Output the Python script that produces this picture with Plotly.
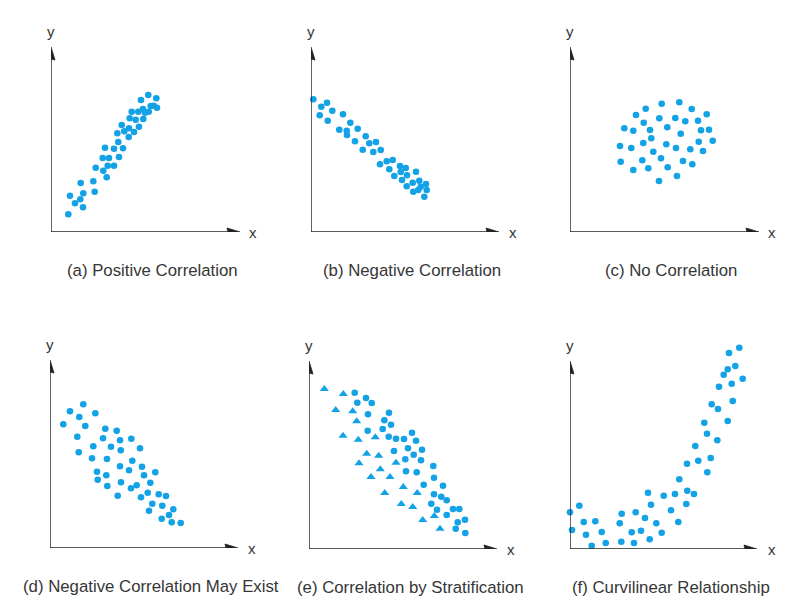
import plotly.graph_objects as go

# ---------------- data ----------------
captions = ["(a) Positive Correlation", "(b) Negative Correlation", "(c) No Correlation",
            "(d) Negative Correlation May Exist", "(e) Correlation by Stratification",
            "(f) Curvilinear Relationship"]

a_x = [17.3, 24.0, 19.0, 29.3, 32.0, 32.3, 29.7, 43.7, 42.3, 44.7, 55.7, 52.3, 56.7, 63.0, 51.7, 58.0,
       68.0, 54.0, 63.0, 72.0, 67.3, 66.3, 73.3, 77.7, 78.0, 83.0, 88.0, 70.7, 78.7, 84.7, 92.3, 80.7,
       87.3, 92.0, 94.0, 97.7, 99.7, 90.0, 97.3, 105.3, 102.7, 106.0]
a_y = [17.7, 28.7, 36.3, 32.7, 24.7, 38.7, 49.0, 40.3, 50.7, 64.3, 54.7, 61.3, 66.3, 66.3, 74.0, 74.0,
       75.0, 84.3, 83.3, 83.7, 90.0, 98.7, 100.7, 95.0, 103.7, 100.0, 105.3, 107.0, 113.7, 112.3, 113.0,
       120.3, 120.3, 123.0, 119.3, 120.3, 126.0, 132.0, 137.0, 133.7, 126.3, 124.3]

b_x = [2.3, 10.3, 16.0, 8.7, 16.7, 21.3, 32.0, 39.3, 28.3, 35.7, 36.0, 46.7, 44.0, 54.7, 58.3, 65.0,
       51.7, 62.3, 69.7, 69.0, 75.7, 81.7, 78.3, 89.0, 94.7, 89.7, 105.0, 83.3, 96.0, 91.0, 101.7, 108.3,
       115.0, 95.7, 109.7, 102.3, 107.3, 115.7, 113.3]
b_y = [132.7, 125.3, 129.3, 116.7, 111.3, 121.3, 117.7, 109.3, 102.3, 101.3, 97.0, 103.3, 90.7, 95.7,
       88.7, 90.0, 82.3, 80.0, 82.0, 67.7, 70.7, 72.0, 62.7, 66.0, 64.0, 60.0, 60.3, 56.0, 56.7, 52.0,
       49.3, 51.3, 48.0, 45.7, 45.3, 40.3, 42.0, 42.0, 35.3]

c_x = [91.7, 109.3, 75.7, 121.7, 66.0, 89.3, 105.3, 136.7, 73.7, 115.3, 128.0, 54.3, 63.3, 80.0, 97.3,
       131.0, 139.0, 110.7, 81.3, 73.3, 96.3, 128.7, 142.7, 50.0, 61.3, 106.0, 120.3, 83.3, 133.0, 91.0,
       50.7, 72.3, 113.0, 122.3, 63.3, 78.3, 97.7, 107.0, 89.0]
c_y = [128.3, 129.7, 123.3, 123.0, 117.0, 113.7, 114.0, 117.7, 109.3, 110.7, 111.3, 103.7, 101.3, 102.0,
       104.7, 101.7, 102.3, 98.3, 93.7, 89.0, 87.7, 90.3, 91.3, 86.0, 84.0, 84.0, 82.7, 80.3, 81.0, 73.7,
       70.3, 71.7, 71.0, 67.7, 62.0, 63.7, 64.7, 56.0, 51.0]

d_x = [33.3, 20.0, 29.3, 45.3, 13.3, 35.3, 27.3, 55.3, 66.7, 53.0, 70.0, 81.3, 43.3, 61.0, 70.7, 90.0,
       28.7, 42.0, 57.0, 82.3, 70.0, 79.0, 92.0, 47.0, 56.3, 94.0, 105.3, 47.7, 71.0, 57.3, 81.0, 86.7,
       100.3, 67.7, 91.0, 97.7, 108.7, 116.0, 102.3, 112.3, 99.0, 123.3, 119.0, 111.7, 121.7, 130.7]
d_y = [143.7, 136.7, 131.0, 134.7, 123.7, 122.0, 111.3, 119.3, 117.3, 109.7, 107.7, 109.3, 101.7, 101.3,
       97.7, 99.7, 95.7, 89.7, 89.0, 87.3, 81.7, 77.7, 81.3, 76.3, 72.7, 72.7, 75.7, 68.3, 65.7, 62.0,
       59.7, 62.7, 65.3, 52.3, 50.7, 55.3, 53.7, 52.0, 44.3, 42.3, 37.3, 38.7, 33.0, 29.3, 25.7, 25.0]

e_tri_x = [15.3, 34.3, 26.7, 43.7, 47.7, 34.0, 49.3, 66.3, 57.7, 69.7, 50.0, 87.0, 71.3, 62.0, 81.0,
           94.3, 75.7, 108.3, 92.3, 103.7, 113.7, 125.3, 131.0]
e_tri_y = [160.0, 155.0, 139.0, 137.7, 127.7, 113.3, 109.3, 111.7, 95.3, 93.3, 85.7, 86.3, 79.7, 72.0,
           72.0, 62.0, 56.0, 56.0, 45.0, 42.0, 29.0, 33.0, 20.3]
e_dot_x = [45.7, 57.0, 48.3, 62.7, 59.0, 80.0, 75.3, 82.0, 73.7, 58.7, 79.7, 87.0, 95.0, 103.0, 107.0,
           85.0, 99.0, 104.7, 113.0, 96.3, 112.0, 124.3, 97.0, 107.7, 125.0, 114.7, 134.0, 125.0, 132.3,
           137.7, 122.3, 128.0, 144.0, 150.3, 137.7, 156.0, 148.7, 146.7, 156.3]
e_dot_y = [156.3, 151.0, 146.3, 146.0, 134.7, 136.3, 128.7, 124.3, 120.0, 118.3, 112.3, 110.3, 110.0,
           116.3, 108.3, 98.0, 100.7, 94.3, 99.3, 89.7, 88.7, 83.0, 77.7, 76.7, 71.3, 64.3, 63.3, 54.7,
           52.3, 48.7, 45.3, 39.3, 40.0, 40.0, 34.0, 29.3, 26.7, 20.3, 16.0]

f_x = [0.0, 9.3, 2.0, 13.7, 16.0, 21.7, 25.3, 31.7, 35.7, 51.7, 49.7, 51.3, 61.7, 64.0, 65.7, 71.0,
       75.0, 78.0, 81.0, 79.7, 86.3, 91.7, 93.7, 101.0, 105.0, 108.3, 109.3, 116.3, 117.3, 124.0, 117.0,
       125.3, 128.3, 134.3, 137.0, 140.7, 137.3, 141.7, 148.0, 147.3, 149.0, 153.7, 157.7, 159.0, 165.3,
       161.7, 162.7, 157.7, 169.3, 172.7]
f_y = [36.7, 43.3, 19.0, 27.0, 14.3, 3.3, 27.7, 17.0, 6.0, 35.3, 25.7, 7.3, 16.7, 6.0, 36.7, 18.3,
       31.0, 56.3, 44.3, 9.7, 25.7, 16.3, 53.3, 38.7, 55.0, 27.0, 69.7, 45.0, 58.3, 55.0, 85.3, 103.0,
       88.3, 126.3, 115.3, 91.0, 76.7, 144.7, 140.0, 108.7, 162.3, 174.3, 179.7, 196.0, 183.0, 165.3,
       148.0, 128.0, 201.3, 170.3]

series = [
    [(a_x, a_y, "circle")],
    [(b_x, b_y, "circle")],
    [(c_x, c_y, "circle")],
    [(d_x, d_y, "circle")],
    [(e_tri_x, e_tri_y, "triangle-up"), (e_dot_x, e_dot_y, "circle")],
    [(f_x, f_y, "circle")],
]

# ---------------- layout (pixel geometry of each panel, page coordinates) ----------------
PAGE_W, PAGE_H = 807, 605
PAD = 8                      # default body margin of the html page
FW, FH = PAGE_W - 2 * PAD, PAGE_H - 2 * PAD
EXTRA = 25                   # headroom above the y arrow so high points are not dropped
# origin x, origin y (from top of page), x-axis length, y-axis length
geom = [(51, 232, 189, 185), (311, 232, 188, 185), (570, 232, 189, 185),
        (50, 548, 188, 188), (309, 549, 188, 188), (570, 549, 187, 188)]

BLUE = "#14A2E6"
AXIS = "#222222"
TEXT = "#363636"
FONT = "Liberation Sans, Arial, sans-serif"


def px(xp):
    return (xp - PAD) / FW


def py(yp):
    return (PAD + FH - yp) / FH


fig = go.Figure()
layout = dict(width=FW, height=FH, autosize=False, margin=dict(l=0, r=0, t=0, b=0, pad=0),
              paper_bgcolor="white", plot_bgcolor="white", showlegend=False)
shapes, annotations = [], []

for i, (ox, oy, lx, ly) in enumerate(geom):
    n = "" if i == 0 else str(i + 1)
    xa, ya = "x" + n, "y" + n
    layout["xaxis" + n] = dict(domain=[px(ox), px(ox + lx)], range=[0, lx], visible=False,
                               anchor=ya, fixedrange=True)
    layout["yaxis" + n] = dict(domain=[py(oy), py(oy - ly - EXTRA)], range=[0, ly + EXTRA],
                               visible=False, anchor=xa, fixedrange=True)
    for xs, ys, sym in series[i]:
        fig.add_trace(go.Scatter(
            x=xs, y=ys, mode="markers", xaxis=xa, yaxis=ya, cliponaxis=False, hoverinfo="skip",
            marker=dict(symbol=sym, size=8 if sym != "circle" else 6.6, color=BLUE,
                        line=dict(width=0))))
    # axis lines
    shapes.append(dict(type="line", xref=xa, yref=ya, x0=0, y0=0, x1=lx - 8, y1=0,
                       line=dict(color=AXIS, width=1.4)))
    shapes.append(dict(type="line", xref=xa, yref=ya, x0=0, y0=0, x1=0, y1=ly - 8,
                       line=dict(color=AXIS, width=1.4)))
    # arrow heads
    shapes.append(dict(type="path", xref=xa, yref=ya,
                       path=f"M {lx},0 L {lx-13},4 L {lx-12},0 L {lx-13},-4 Z",
                       fillcolor=AXIS, line=dict(color=AXIS, width=0.8)))
    shapes.append(dict(type="path", xref=xa, yref=ya,
                       path=f"M 0,{ly} L -4,{ly-13} L 0,{ly-12} L 4,{ly-13} Z",
                       fillcolor=AXIS, line=dict(color=AXIS, width=0.8)))
    # axis letters and caption (paper coordinates)
    annotations.append(dict(text="y", xref="paper", yref="paper", x=px(ox), y=py(oy - ly - 16),
                            showarrow=False, xanchor="center", yanchor="middle",
                            font=dict(family=FONT, size=15, color=TEXT)))
    annotations.append(dict(text="x", xref="paper", yref="paper", x=px(ox + 202), y=py(oy),
                            showarrow=False, xanchor="center", yanchor="middle",
                            font=dict(family=FONT, size=15, color=TEXT)))
    annotations.append(dict(text=captions[i], xref="paper", yref="paper", x=px(ox + 101),
                            y=py(oy + 38.5), showarrow=False, xanchor="center", yanchor="middle",
                            font=dict(family=FONT, size=16.8, color=TEXT)))

layout["shapes"] = shapes
layout["annotations"] = annotations
fig.update_layout(**layout)
fig.write_html("out.html")
